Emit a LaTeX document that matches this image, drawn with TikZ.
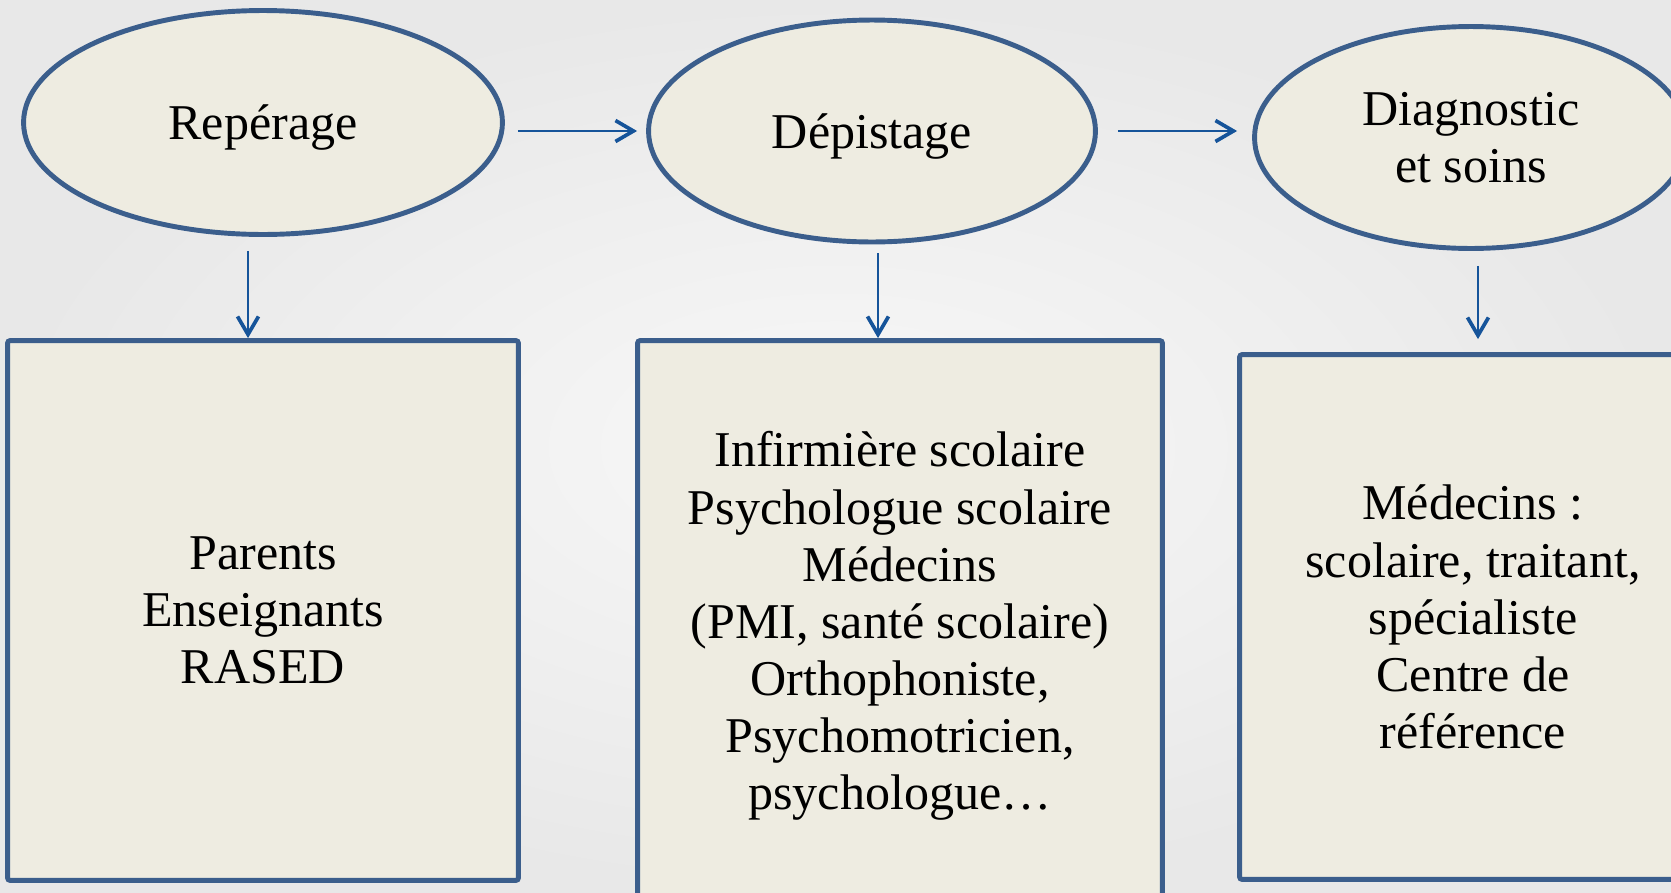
\documentclass[tikz,border=0pt]{standalone}
\usepackage{fontspec}
\setmainfont{Liberation Serif}
\usetikzlibrary{shapes.geometric,arrows.meta}

\definecolor{bordbleu}{RGB}{59,94,140}
\definecolor{flechebleu}{RGB}{22,84,154}
\definecolor{fondcase}{RGB}{238,236,225}
\definecolor{fondin}{RGB}{248,248,248}
\definecolor{fondout}{RGB}{232,232,232}

\begin{document}
\begin{tikzpicture}[x=0.02cm, y=-0.02cm,
		every node/.style={font=\fontsize{28.5}{32.5}\selectfont, align=center},
		etape/.style={ellipse, draw=bordbleu, fill=fondcase, line width=2.8pt, inner sep=0pt, text depth=0pt},
		acteurs/.style={rectangle, draw=bordbleu, fill=fondcase, line width=2.8pt, rounded corners=1.5pt, inner sep=0pt},
		fleche/.style={flechebleu, line width=1.1pt, -{Straight Barb[length=0.36cm, width=0.42cm, line width=2.1pt]}}]

				\clip (0,0) rectangle (1671,893);
				\shade[inner color=fondin, outer color=fondout] (0,0) rectangle (1671,893);

				% les trois etapes
				\node[etape, minimum width=9.58cm, minimum height=4.48cm] (rep) at (263,122.5) {Repérage};
				\node[etape, minimum width=8.94cm, minimum height=4.44cm] (dep) at (872,131) {Dépistage};
				\node[etape, minimum width=8.66cm, minimum height=4.44cm] (diag) at (1471,137.5) {Diagnostic\\et soins};

				% qui intervient
				\node[acteurs, minimum width=10.22cm, minimum height=10.8cm] (parents) at (263,610.5) {Parents\\Enseignants\\RASED};
				\node[acteurs, minimum width=10.5cm, minimum height=11.42cm] (infirm) at (900,626) {Infirmière scolaire\\Psychologue scolaire\\Médecins\\(PMI, santé scolaire)\\Orthophoniste,\\Psychomotricien,\\psychologue\dots};
				\node[acteurs, minimum width=9.34cm, minimum height=10.5cm] (soins) at (1473,617) {Médecins :\\scolaire, traitant,\\spécialiste\\Centre de\\référence};

				\draw[fleche] ([xshift=0.26cm]rep.east |- dep.west) -- ([xshift=-0.18cm]dep.west);
				\draw[fleche] ([xshift=0.4cm]dep.east) coordinate (d2) -- ([xshift=-0.3cm]diag.west |- d2);

				\draw[fleche] ([xshift=-0.3cm, yshift=-0.28cm]rep.south) coordinate (r1) -- (r1 |- parents.north);
				\draw[fleche] ([xshift=0.12cm, yshift=-0.18cm]dep.south) coordinate (r2) -- (r2 |- infirm.north);
				\path ([yshift=0.26cm]soins.north) coordinate (s3);
				\draw[fleche] ([xshift=0.14cm, yshift=-0.3cm]diag.south) coordinate (r3) -- (r3 |- s3);
			\end{tikzpicture}
\end{document}
